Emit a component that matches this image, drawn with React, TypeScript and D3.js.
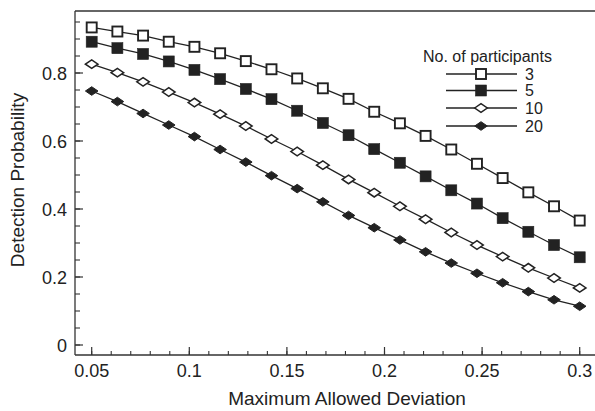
import React from "react";
import * as d3 from "d3";

const xValues: number[] = d3.range(20).map((i) => 0.05 + (i * 0.25) / 19);

const seriesNames = ["3", "5", "10", "20"];
const s3 = [0.934, 0.922, 0.91, 0.892, 0.877, 0.858, 0.835, 0.811, 0.784, 0.755, 0.724, 0.686, 0.652, 0.615, 0.575, 0.533, 0.491, 0.449, 0.408, 0.366];
const s5 = [0.892, 0.873, 0.856, 0.834, 0.809, 0.782, 0.753, 0.723, 0.689, 0.653, 0.617, 0.576, 0.536, 0.496, 0.455, 0.416, 0.373, 0.333, 0.294, 0.258];
const s10 = [0.826, 0.801, 0.774, 0.744, 0.713, 0.679, 0.644, 0.606, 0.569, 0.529, 0.487, 0.448, 0.408, 0.37, 0.331, 0.294, 0.26, 0.227, 0.197, 0.168];
const s20 = [0.747, 0.716, 0.681, 0.647, 0.613, 0.575, 0.538, 0.498, 0.46, 0.421, 0.381, 0.345, 0.309, 0.274, 0.241, 0.211, 0.183, 0.157, 0.133, 0.114];
const seriesValues = [s3, s5, s10, s20];
const markerKinds = ["openSquare", "filledSquare", "openDiamond", "filledDiamond"];

const xTickLabels = [0.05, 0.1, 0.15, 0.2, 0.25, 0.3];
const yTickLabels = [0, 0.2, 0.4, 0.6, 0.8];

const FONT = "'Liberation Sans', Arial, Helvetica, sans-serif";
const INK = "#222";

function Marker({ kind, cx, cy }: { kind: string; cx: number; cy: number }) {
  if (kind === "openSquare")
    return <rect x={cx - 5} y={cy - 5} width={10} height={10} fill="#fff" stroke={INK} strokeWidth={1.9} />;
  if (kind === "filledSquare")
    return <rect x={cx - 5.5} y={cy - 5.5} width={11} height={11} fill={INK} stroke={INK} strokeWidth={0.6} />;
  const w = 6.3, h = 4.3;
  const d = `M${cx - w},${cy}L${cx},${cy - h}L${cx + w},${cy}L${cx},${cy + h}Z`;
  if (kind === "openDiamond") return <path d={d} fill="#fff" stroke={INK} strokeWidth={1.5} />;
  return <path d={d} fill={INK} stroke={INK} strokeWidth={1} />;
}

export default function App() {
  const x = d3.scaleLinear().domain([0.05, 0.3]).range([91.7, 579.7]);
  const y = d3.scaleLinear().domain([0, 0.8]).range([345, 73]);
  const left = 75, bottom = 355, top = 11, right = 600;

  const line = d3
    .line<number>()
    .x((_, i) => x(xValues[i]))
    .y((v) => y(v));

  const xMinor = d3.range(5, 31).map((v) => v / 100);
  const yMinor = d3.range(0, 20).map((v) => v * 0.05).filter((v) => y(v) > top + 2);

  const legendX1 = 446, legendX2 = 517, legendMid = 481;
  const legendRows = [74, 90.5, 108, 126];

  return (
    <svg
      width={595}
      height={411}
      style={{ position: "absolute", left: 0, top: 0, overflow: "hidden", background: "#fff" }}
      fontFamily={FONT}
    >
      <rect x={0} y={0} width={595} height={411} fill="#fff" />
      {/* frame */}
      <line x1={left} y1={top} x2={right} y2={top} stroke="#333" strokeWidth={1.3} />
      <line x1={left} y1={top} x2={left} y2={bottom} stroke="#333" strokeWidth={1.3} />
      <line x1={left} y1={bottom} x2={right} y2={bottom} stroke="#333" strokeWidth={1.3} />

      {/* x ticks */}
      {xMinor.map((v) => (
        <line key={"xm" + v} x1={x(v)} x2={x(v)} y1={bottom} y2={bottom - 4} stroke="#333" strokeWidth={1.1} />
      ))}
      {xTickLabels.map((v) => (
        <g key={"xt" + v}>
          <line x1={x(v)} x2={x(v)} y1={bottom} y2={bottom - 8} stroke="#333" strokeWidth={1.2} />
          <text x={x(v)} y={377} textAnchor="middle" fontSize={18} fill={INK}>
            {String(v)}
          </text>
        </g>
      ))}

      {/* y ticks */}
      {yMinor.map((v) => (
        <line key={"ym" + v} x1={left} x2={left + 5} y1={y(v)} y2={y(v)} stroke="#333" strokeWidth={1.1} />
      ))}
      {yTickLabels.map((v) => (
        <g key={"yt" + v}>
          <line x1={left} x2={left + 8} y1={y(v)} y2={y(v)} stroke="#333" strokeWidth={1.2} />
          <text x={67} y={y(v) + 6.5} textAnchor="end" fontSize={18} fill={INK}>
            {String(v)}
          </text>
        </g>
      ))}

      {/* axis titles */}
      <text x={347} y={405} textAnchor="middle" fontSize={19} fill={INK}>
        Maximum Allowed Deviation
      </text>
      <text transform="translate(24,180) rotate(-90)" textAnchor="middle" fontSize={19} fill={INK}>
        Detection Probability
      </text>

      {/* series */}
      {seriesValues.map((vals, si) => (
        <g key={"s" + si}>
          <path d={line(vals) || ""} fill="none" stroke={INK} strokeWidth={1.3} />
          {vals.map((v, i) => (
            <Marker key={i} kind={markerKinds[si]} cx={x(xValues[i])} cy={y(v)} />
          ))}
        </g>
      ))}

      {/* legend */}
      <text x={423} y={62} fontSize={16} fill={INK}>
        No. of participants
      </text>
      {seriesNames.map((name, i) => (
        <g key={"lg" + name}>
          <line x1={legendX1} x2={legendX2} y1={legendRows[i]} y2={legendRows[i]} stroke={INK} strokeWidth={1.3} />
          <Marker kind={markerKinds[i]} cx={legendMid} cy={legendRows[i]} />
          <text x={525} y={legendRows[i] + 5.5} fontSize={16} fill={INK}>
            {name}
          </text>
        </g>
      ))}
    </svg>
  );
}
